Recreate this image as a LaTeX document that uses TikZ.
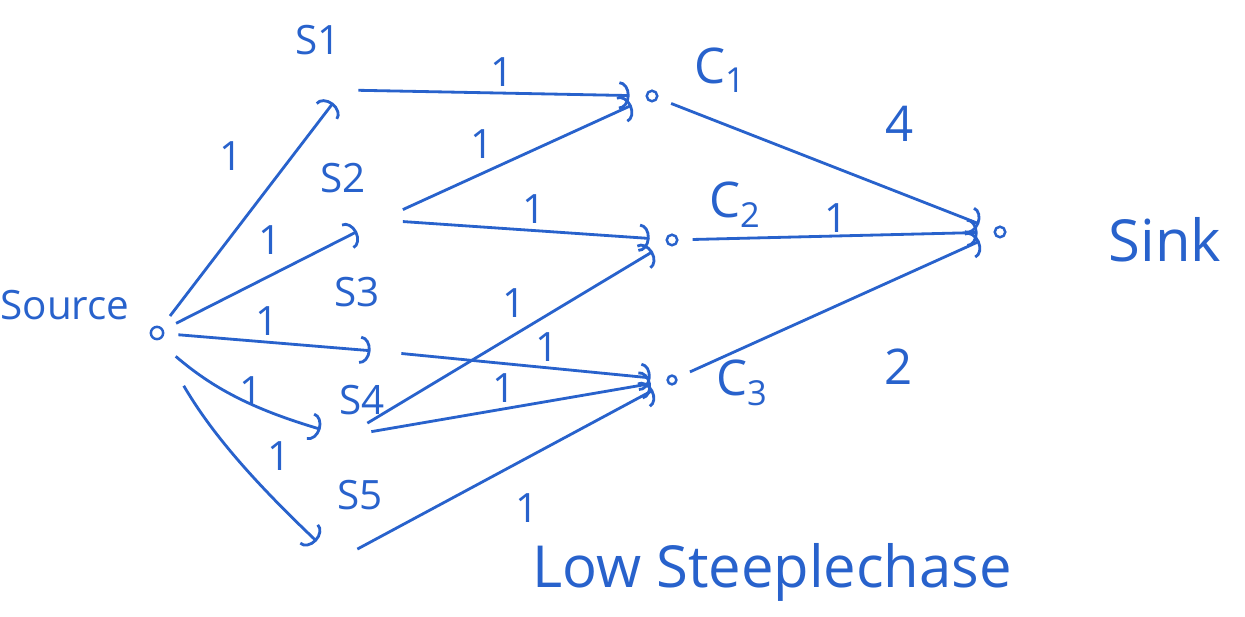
\documentclass[tikz,border=0pt]{standalone}
\usepackage{fontspec}
\setmainfont{Open Sans}
\usetikzlibrary{arrows.meta, positioning}
\definecolor{pen}{RGB}{40,98,204}

\begin{document}
\begin{tikzpicture}[
    x=0.02cm, y=-0.02cm,
    dot/.style={circle, draw=pen, line width=1.4pt, inner sep=0pt, minimum size=7pt},
    hub/.style={inner sep=0pt, minimum width=0.6cm, minimum height=0.5cm},
    tag/.style={text=pen, font=\fontsize{23}{27}\selectfont},
    weight/.style={text=pen, font=\fontsize{23}{27}\selectfont, inner sep=3pt},
    flow/.style={draw=pen, line width=1.6pt, -{Arc Barb[length=6pt, width=16pt]}},
    leave/.style={shorten <=8pt},
    enter/.style={shorten >=9pt}
]
\useasboundingbox [fill=white] (0,0) rectangle (1245,617);

% Nodes
\node (src) [dot] at (157,333) {};
\node (s1) [hub] at (343,90) {};
\node (s2) [hub, minimum width=0.9cm] at (380,220) {};
\node (s3) [hub] at (386,352) {};
\node (s4) [hub, minimum width=1cm] at (346,436) {};
\node (s5) [hub, minimum width=0.8cm, minimum height=0.8cm] at (337,560) {};
\node (c1) [dot, minimum size=6pt] at (652,96) {};
\node (c2) [dot, minimum size=6pt] at (672,240) {};
\node (c3) [dot, minimum size=5pt] at (672,380) {};
\node (snk) [dot, minimum size=6pt] at (1000,232) {};

% Labels
\node (srctxt) [tag] at (65,305) {Source};
\node (s1txt) [tag] at (318,40) {S1};
\node (s2txt) [tag] at (343,178) {S2};
\node (s3txt) [tag] at (357,292) {S3};
\node (s4txt) [tag] at (362,400) {S4};
\node (s5txt) [tag] at (360,495) {S5};
\node (c1txt) [tag, font=\fontsize{28}{32}\selectfont] at (720,70) {C\textsubscript{1}};
\node (c2txt) [tag, font=\fontsize{28}{32}\selectfont] at (735,205) {C\textsubscript{2}};
\node (c3txt) [tag, font=\fontsize{28}{32}\selectfont] at (742,383) {C\textsubscript{3}};
\node (snktxt) [tag, font=\fontsize{33}{38}\selectfont] at (1165,240) {Sink};
\node (title) [tag, font=\fontsize{33}{38}\selectfont] at (772,572) {Low Steeplechase};

% Arrows
\draw [flow, leave] (src) -- node[weight, above left=12pt, pos=0.6] {1} (s1);
\draw [flow, leave] (src) -- node[weight, above=8pt, pos=0.55] {1} (s2);
\draw [flow, leave] (src) -- node[weight, above] {1} (s3);
\draw [flow, shorten <=14pt] (src.south) to[bend right=12] node[weight, right=4pt, pos=0.45] {1} (s4);
\draw [flow, shorten <=30pt] (src.south) to[bend right=8] node[weight, right=14pt, pos=0.55] {1} (s5);
\draw [flow, enter] (s1) -- node[weight, above] {1} (c1);
\draw [flow, enter] (s2) -- node[weight, above left, pos=0.4] {1} (c1);
\draw [flow, enter] (s2) -- node[weight, above] {1} (c2);
\draw [flow, enter] (s3) -- node[weight, above, pos=0.55] {1} (c3);
\draw [flow, enter] (s4) -- node[weight, above left, pos=0.55] {1} (c2);
\draw [flow, enter] (s4) -- node[weight, above, pos=0.45] {1} (c3);
\draw [flow, enter] (s5) -- node[weight, below right=10pt, pos=0.45] {1} (c3);
\draw [flow, leave, enter] (c1) -- node[weight, above=0.9cm, pos=0.72, font=\fontsize{28}{32}\selectfont] {4} (snk);
\draw [flow, leave, enter] (c2) -- node[weight, above=-2pt, pos=0.5] {1} (snk);
\draw [flow, leave, enter] (c3) -- node[weight, below=1.3cm, pos=0.7, font=\fontsize{28}{32}\selectfont] {2} (snk);

\end{tikzpicture}
\end{document}
